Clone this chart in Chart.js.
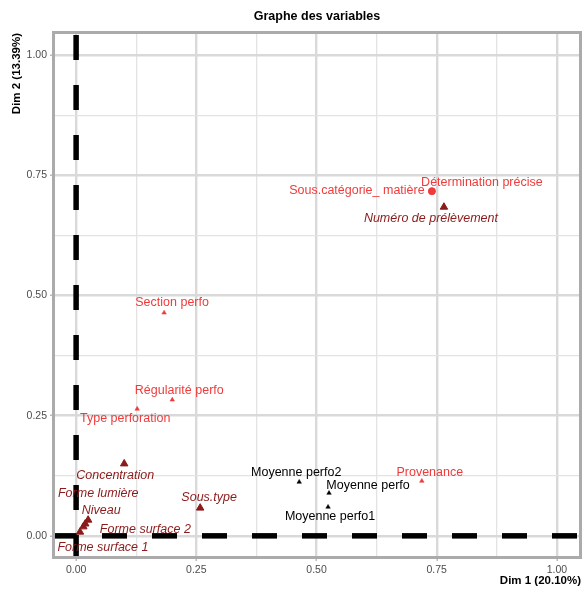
<!DOCTYPE html>
<html>
<head>
<meta charset="utf-8">
<script src="https://cdn.jsdelivr.net/npm/chart.js@4.4.1/dist/chart.umd.min.js"></script>
<style>
  html, body { margin: 0; padding: 0; background: #fff; }
  #wrap { width: 588px; height: 591px; position: relative; }
</style>
</head>
<body>
<div id="wrap"><canvas id="pca"></canvas></div>
<script>
// Variables actives (rouge clair)
const activeNames = ['Détermination précise', 'Sous.catégorie_ matière', 'Section perfo',
                     'Régularité perfo', 'Type perforation', 'Provenance'];
const activeX = [0.740, 0.740, 0.183, 0.200, 0.127, 0.719];
const activeY = [0.717, 0.717, 0.464, 0.283, 0.264, 0.114];

// Variables qualitatives supplémentaires (rouge foncé)
const suppNames = ['Numéro de prélèvement', 'Concentration', 'Sous.type', 'Niveau',
                   'Forme lumière', 'Forme surface 2', 'Forme surface 1'];
const suppX = [0.765, 0.100, 0.258, 0.025, 0.019, 0.015, 0.008];
const suppY = [0.684, 0.150, 0.058, 0.033, 0.025, 0.019, 0.008];

// Variables quantitatives supplémentaires (noir)
const quantNames = ['Moyenne perfo2', 'Moyenne perfo', 'Moyenne perfo1'];
const quantX = [0.464, 0.526, 0.524];
const quantY = [0.112, 0.089, 0.060];

const tickValues = [0, 0.125, 0.25, 0.375, 0.5, 0.625, 0.75, 0.875, 1];

// label offsets in px (text centre relative to point)
const labelOffsets = {
    'Détermination précise': [50, -9],
    'Sous.catégorie_ matière': [-75, -1],
    'Section perfo': [8, -10],
    'Régularité perfo': [7, -9],
    'Type perforation': [-12, 10],
    'Provenance': [8, -8],
    'Numéro de prélèvement': [-13, 11],
    'Concentration': [-9, 12],
    'Sous.type': [9, -10],
    'Niveau': [13, -9],
    'Forme lumière': [13, -30],
    'Forme surface 2': [62, 3],
    'Forme surface 1': [23, 16],
    'Moyenne perfo2': [-3, -9],
    'Moyenne perfo': [39, -8],
    'Moyenne perfo1': [2, 10]
};

const RED = '#f03b3b';
const DARK = '#8b1a1a';
const FONT = '"Liberation Sans", Arial, sans-serif';

const toPoints = (xs, ys) => xs.map((x, i) => ({ x: x, y: ys[i] }));
const isMajor = v => Math.abs(v / 0.25 - Math.round(v / 0.25)) < 1e-6;

const decorPlugin = {
    id: 'decor',
    beforeDatasetsDraw(chart) {
        const { ctx, chartArea: a, scales } = chart;
        const x0 = scales.x.getPixelForValue(0);
        const y0 = scales.y.getPixelForValue(0);
        ctx.save();
        ctx.beginPath();
        ctx.rect(a.left, a.top, a.right - a.left, a.bottom - a.top);
        ctx.clip();
        ctx.strokeStyle = '#000';
        ctx.lineWidth = 5.5;
        ctx.setLineDash([25, 25]);
        ctx.beginPath();
        ctx.moveTo(a.left - 2, y0);
        ctx.lineTo(a.right, y0);
        ctx.stroke();
        ctx.beginPath();
        ctx.moveTo(x0, a.top + 2);
        ctx.lineTo(x0, a.bottom);
        ctx.stroke();
        ctx.restore();
    },
    afterDatasetsDraw(chart) {
        const { ctx, chartArea: a } = chart;
        ctx.save();
        ctx.textAlign = 'center';
        ctx.textBaseline = 'middle';
        chart.data.datasets.forEach((ds, di) => {
            const meta = chart.getDatasetMeta(di);
            ctx.fillStyle = ds.labelColor;
            ctx.font = (ds.italic ? 'italic ' : '') + '12.5px ' + FONT;
            meta.data.forEach((pt, i) => {
                const name = ds.names[i];
                const off = labelOffsets[name] || [0, -10];
                ctx.fillText(name, pt.x + off[0], pt.y + off[1]);
            });
        });
        // panel border
        ctx.strokeStyle = '#ababab';
        ctx.lineWidth = 3;
        ctx.strokeRect(a.left - 0.5, a.top - 0.5, a.right - a.left + 1, a.bottom - a.top + 1);
        // titles
        ctx.fillStyle = '#000';
        ctx.font = 'bold 12.5px ' + FONT;
        ctx.fillText('Graphe des variables', (a.left + a.right) / 2, 17);
        ctx.font = 'bold 11.5px ' + FONT;
        ctx.textAlign = 'right';
        ctx.fillText('Dim 1 (20.10%)', a.right + 1, 581);
        ctx.translate(17, a.top);
        ctx.rotate(-Math.PI / 2);
        ctx.fillText('Dim 2 (13.39%)', 0, 0);
        ctx.restore();
    }
};

function axisOptions(min, max, fit) {
    return {
        type: 'linear',
        min: min,
        max: max,
        afterBuildTicks: s => { s.ticks = tickValues.map(v => ({ value: v })); },
        afterFit: fit,
        border: { display: false },
        grid: {
            color: c => isMajor(c.tick.value) ? '#d9d9d9' : '#e3e3e3',
            lineWidth: c => isMajor(c.tick.value) ? 2.4 : 1.3,
            tickColor: c => isMajor(c.tick.value) ? '#a9a9a9' : 'rgba(0,0,0,0)',
            tickLength: 4,
            tickWidth: 1.2
        },
        ticks: {
            color: '#4d4d4d',
            font: { family: FONT, size: 10.5 },
            padding: 3,
            autoSkip: false,
            maxRotation: 0,
            callback: v => isMajor(v) ? v.toFixed(2) : ''
        }
    };
}

new Chart(document.getElementById('pca'), {
    type: 'scatter',
    data: {
        datasets: [
            {
                data: toPoints(activeX, activeY),
                names: activeNames,
                labelColor: RED,
                italic: false,
                pointStyle: activeNames.map((n, i) => i < 2 ? 'circle' : 'triangle'),
                pointRadius: activeNames.map((n, i) => i < 2 ? 3.5 : 2.6),
                backgroundColor: RED,
                borderColor: RED,
                borderWidth: 0.5
            },
            {
                data: toPoints(suppX, suppY),
                names: suppNames,
                labelColor: DARK,
                italic: true,
                pointStyle: 'triangle',
                pointRadius: 4.3,
                backgroundColor: DARK,
                borderColor: DARK,
                borderWidth: 1
            },
            {
                data: toPoints(quantX, quantY),
                names: quantNames,
                labelColor: '#000',
                italic: false,
                pointStyle: 'triangle',
                pointRadius: 2.6,
                backgroundColor: '#000',
                borderColor: '#000',
                borderWidth: 0.5
            }
        ]
    },
    options: {
        responsive: true,
        maintainAspectRatio: false,
        animation: false,
        layout: { padding: { top: 33, right: 8, left: 0, bottom: 0 } },
        plugins: {
            legend: { display: false },
            tooltip: { enabled: false }
        },
        scales: {
            x: axisOptions(-0.046, 1.048, s => { s.height = 34; }),
            y: axisOptions(-0.044, 1.046, s => { s.width = 54; })
        }
    },
    plugins: [decorPlugin]
});
</script>
</body>
</html>
